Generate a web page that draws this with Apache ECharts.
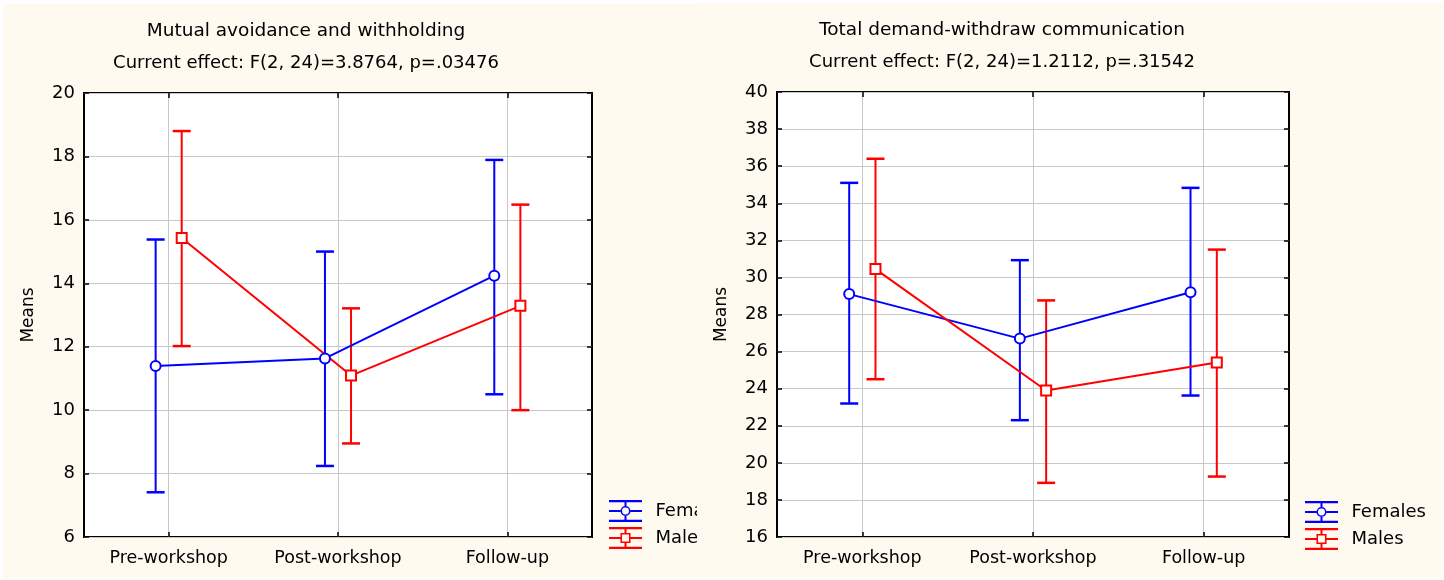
<!DOCTYPE html>
<html>
<head>
<meta charset="utf-8">
<script src="https://cdn.jsdelivr.net/npm/echarts@6/dist/echarts.min.js"></script>
<style>
  html, body { margin: 0; padding: 0; background: #ffffff; }
  #left { position: absolute; left: 3px; top: 4px; width: 694px; height: 574px; background: #fefaf0; }
  #right { position: absolute; left: 697px; top: 3px; width: 745px; height: 575px; background: #fefaf0; }
</style>
</head>
<body>
<div id="left"></div>
<div id="right"></div>
<script>
const categories = ["Pre-workshop", "Post-workshop", "Follow-up"];

// Mutual avoidance and withholding
const avoidFemMean = [11.39, 11.63, 14.24];
const avoidFemLow = [7.41, 8.24, 10.5];
const avoidFemHigh = [15.38, 15.0, 17.89];
const avoidMaleMean = [15.43, 11.09, 13.29];
const avoidMaleLow = [12.02, 8.95, 10.0];
const avoidMaleHigh = [18.8, 13.21, 16.48];

// Total demand-withdraw communication
const dwFemMean = [29.1, 26.7, 29.2];
const dwFemLow = [23.2, 22.3, 23.63];
const dwFemHigh = [35.1, 30.93, 34.83];
const dwMaleMean = [30.45, 23.9, 25.41];
const dwMaleLow = [24.51, 18.92, 19.26];
const dwMaleHigh = [36.4, 28.76, 31.5];

const BLUE = "#0000ff";
const RED = "#ff0000";
const FONT = "DejaVu Sans";
const DODGE = 0.077; // females drawn a bit left of the category, males a bit right

// legend icons: error bar with marker, 36x24 box
const FEM_ICON = "path://M0 0H36V2.5H0Z M0 21.5H36V24H0Z M16.9 2.5H19.1V6.5H16.9Z M16.9 17.5H19.1V21.5H16.9Z " +
  "M0 10.8H12.5V13.2H0Z M23.5 10.8H36V13.2H23.5Z " +
  "M12.5 12A5.5 5.5 0 1 1 23.5 12A5.5 5.5 0 1 1 12.5 12Z M14.2 12A3.8 3.8 0 1 0 21.8 12A3.8 3.8 0 1 0 14.2 12Z";
const MALE_ICON = "path://M0 0H36V2.5H0Z M0 21.5H36V24H0Z M16.9 2.5H19.1V6.5H16.9Z M16.9 17.5H19.1V21.5H16.9Z " +
  "M0 10.8H12.5V13.2H0Z M23.5 10.8H36V13.2H23.5Z " +
  "M12.5 6.5H23.5V17.5H12.5Z M14.2 8.2V15.8H21.8V8.2Z";

const errorBarItem = (params, api) => {
  const x = api.value(0);
  const top = api.coord([x, api.value(2)]);
  const bot = api.coord([x, api.value(1)]);
  const half = 9;
  const color = api.visual("color");
  return {
    type: "group",
    children: [
      { type: "line", shape: { x1: top[0], y1: top[1], x2: bot[0], y2: bot[1] }, style: { stroke: color, lineWidth: 2 } },
      { type: "line", shape: { x1: top[0] - half, y1: top[1], x2: top[0] + half, y2: top[1] }, style: { stroke: color, lineWidth: 2.5 } },
      { type: "line", shape: { x1: bot[0] - half, y1: bot[1], x2: bot[0] + half, y2: bot[1] }, style: { stroke: color, lineWidth: 2.5 } },
    ],
  };
};

const buildOption = (cfg) => {
  const catPos = categories.map((c, i) => i);
  const femX = catPos.map((p) => p - DODGE);
  const maleX = catPos.map((p) => p + DODGE);

  const tickStyle = { show: true, inside: true, length: 5, lineStyle: { color: "#000", width: 1.5 } };
  const xTicks = Object.assign({}, tickStyle, { customValues: catPos });

  return {
    animation: false,
    textStyle: { fontFamily: FONT },
    title: {
      text: cfg.title,
      subtext: cfg.subtitle,
      left: cfg.titleX,
      top: 18,
      textAlign: "center",
      padding: 0,
      itemGap: 13,
      textStyle: { fontFamily: FONT, fontSize: 18.5, fontWeight: "normal", color: "#000", lineHeight: 18 },
      subtextStyle: { fontFamily: FONT, fontSize: 18, color: "#000", lineHeight: 18 },
    },
    legend: {
      orient: "vertical",
      left: cfg.legendX,
      top: cfg.legendY,
      padding: 0,
      itemWidth: 36,
      itemHeight: 22,
      itemGap: 5,
      selectedMode: false,
      itemStyle: { borderWidth: 0 },
      textStyle: { fontFamily: FONT, fontSize: 18, color: "#000", padding: [0, 0, 0, 7] },
      data: [
        { name: "Females", icon: FEM_ICON },
        { name: "Males", icon: MALE_ICON },
      ],
    },
    grid: {
      left: cfg.gridLeft, top: 89, width: cfg.gridWidth, height: cfg.gridHeight,
      show: true, backgroundColor: "#ffffff", borderColor: "#000", borderWidth: 2,
    },
    xAxis: [
      {
        type: "value", min: -0.5, max: 2.5,
        axisLine: { show: false, onZero: false },
        axisTick: xTicks,
        axisLabel: {
          customValues: catPos,
          fontFamily: FONT, fontSize: 17.5, color: "#000", margin: 12,
          formatter: (v) => categories[Math.round(v)],
        },
        splitLine: { lineStyle: { color: "#c8c8c8", width: 1 } },
      },
      {
        type: "value", position: "top", min: -0.5, max: 2.5,
        axisLine: { show: false, onZero: false }, axisTick: xTicks,
        axisLabel: { show: false }, splitLine: { show: false },
      },
    ],
    yAxis: [
      {
        type: "value", min: cfg.yMin, max: cfg.yMax, interval: 2,
        name: "Means", nameLocation: "middle", nameGap: 47,
        nameTextStyle: { fontFamily: FONT, fontSize: 17, color: "#000" },
        axisLine: { show: false, onZero: false },
        axisTick: tickStyle,
        axisLabel: { fontFamily: FONT, fontSize: 18, color: "#000", margin: 9 },
        splitLine: { lineStyle: { color: "#c8c8c8", width: 1 } },
      },
      {
        type: "value", position: "right", min: cfg.yMin, max: cfg.yMax, interval: 2,
        axisLine: { show: false, onZero: false }, axisTick: tickStyle,
        axisLabel: { show: false }, splitLine: { show: false },
      },
    ],
    series: [
      {
        name: "Females", type: "line", z: 4,
        data: femX.map((x, i) => [x, cfg.femMean[i]]),
        symbol: "emptyCircle", symbolSize: 10,
        lineStyle: { color: BLUE, width: 2 },
        itemStyle: { color: BLUE, borderWidth: 1.5 },
      },
      {
        name: "Males", type: "line", z: 4,
        data: maleX.map((x, i) => [x, cfg.maleMean[i]]),
        symbol: "emptyRect", symbolSize: 10,
        lineStyle: { color: RED, width: 2 },
        itemStyle: { color: RED, borderWidth: 1.5 },
      },
      {
        name: "Females", type: "custom", z: 3,
        renderItem: errorBarItem,
        itemStyle: { color: BLUE },
        encode: { x: 0, y: [1, 2] },
        data: femX.map((x, i) => [x, cfg.femLow[i], cfg.femHigh[i]]),
      },
      {
        name: "Males", type: "custom", z: 3,
        renderItem: errorBarItem,
        itemStyle: { color: RED },
        encode: { x: 0, y: [1, 2] },
        data: maleX.map((x, i) => [x, cfg.maleLow[i], cfg.maleHigh[i]]),
      },
    ],
  };
};

const leftChart = echarts.init(document.getElementById("left"));
leftChart.setOption(buildOption({
  title: "Mutual avoidance and withholding",
  subtitle: "Current effect: F(2, 24)=3.8764, p=.03476",
  titleX: 303,
  legendX: 606, legendY: 496,
  gridLeft: 81, gridWidth: 508, gridHeight: 444,
  yMin: 6, yMax: 20,
  femMean: avoidFemMean, femLow: avoidFemLow, femHigh: avoidFemHigh,
  maleMean: avoidMaleMean, maleLow: avoidMaleLow, maleHigh: avoidMaleHigh,
}));

const rightChart = echarts.init(document.getElementById("right"));
rightChart.setOption(buildOption({
  title: "Total demand-withdraw communication",
  subtitle: "Current effect: F(2, 24)=1.2112, p=.31542",
  titleX: 305,
  legendX: 608, legendY: 498,
  gridLeft: 80, gridWidth: 512, gridHeight: 445,
  yMin: 16, yMax: 40,
  femMean: dwFemMean, femLow: dwFemLow, femHigh: dwFemHigh,
  maleMean: dwMaleMean, maleLow: dwMaleLow, maleHigh: dwMaleHigh,
}));
</script>
</body>
</html>
